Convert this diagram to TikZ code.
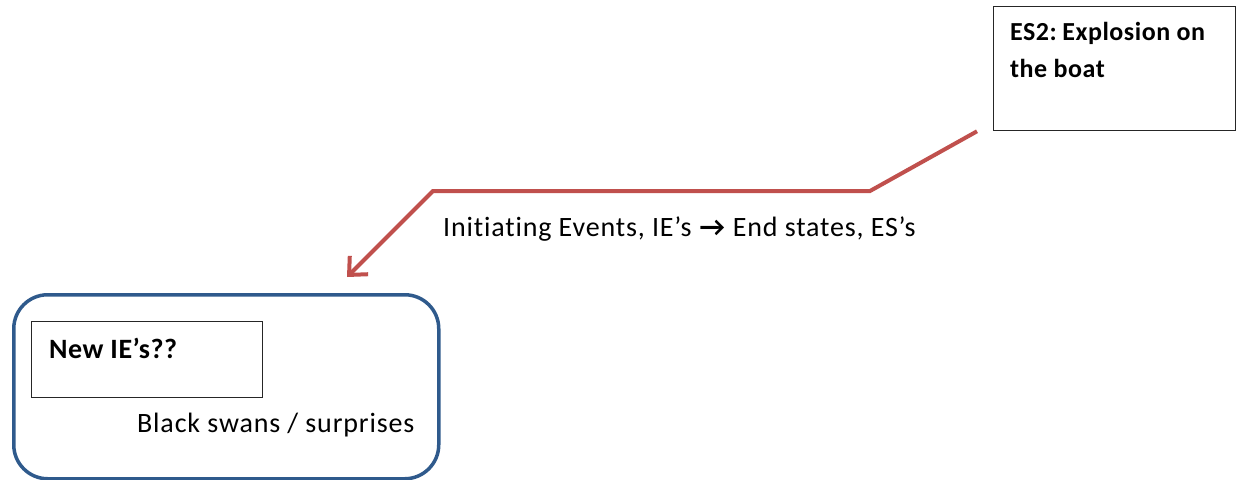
\documentclass[tikz,border=0pt]{standalone}
\usepackage{fontspec}
\setmainfont[Ligatures=NoCommon, LetterSpace=3]{Carlito}
\newfontfamily\headfont[Ligatures=NoCommon, LetterSpace=2]{Carlito}
\usetikzlibrary{arrows.meta,calc}
\definecolor{flowred}{HTML}{C0504D}
\definecolor{frameblue}{HTML}{2F5A8C}
\tikzset{
  plainbox/.style={draw=black!85, line width=1.3pt, anchor=north west, inner sep=0pt},
  groupbox/.style={draw=frameblue, line width=3.5pt, rounded corners=34pt, anchor=north west, inner sep=0pt},
  flow/.style={draw=flowred, line width=4pt, line join=miter,
    -{Straight Barb[length=14pt, width=26pt, line width=4pt]}},
  txt/.style={anchor=base west, inner sep=0pt, font=\fontsize{28}{37}\selectfont},
  boldtxt/.style={txt, font=\headfont\fontsize{26}{37}\selectfont\bfseries}
}
\begin{document}
\begin{tikzpicture}[x=1pt, y=-1pt]
  \useasboundingbox (0,0) rectangle (1238,479);
  % end-state box
  \node[plainbox, minimum width=242pt, minimum height=124pt] (es2) at (993,6) {};
  \node[boldtxt] (es2a) at (1010,40) {ES2:\kern-3pt{} Explosion on};
  \node[boldtxt] (es2b) at (1010,77) {the boat};
  % group of new initiating events
  \node[groupbox, minimum width=425pt, minimum height=184pt] (grp) at (12,293) {};
  \node[plainbox, minimum width=231pt, minimum height=76pt] (newie) at (31,321) {};
  \node[boldtxt, font=\headfont\fontsize{28}{37}\selectfont\bfseries] (newietxt) at (49,358) {New IE’s??};
  \node[txt] (swans) at (137,432) {Black swans / surprises};
  % flow from end states back to initiating events
  \coordinate (fstart) at ($(es2.south west)+(-16,0)$);
  \coordinate (fend) at ($(grp.north west)+(335,-16)$);
  \draw[flow] (fstart) -- (870,191) -- (433,191) -- (fend);
  \node[txt] (flowlbl) at (443,236) {Initiating Events, IE’s \textbf{→} End states, ES’s};
\end{tikzpicture}
\end{document}
